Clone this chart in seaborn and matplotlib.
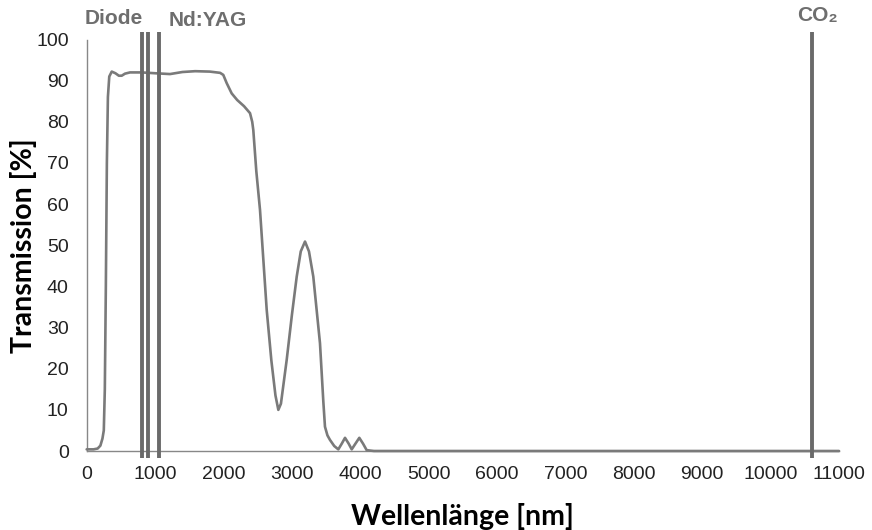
import matplotlib
matplotlib.use("Agg")
import matplotlib.pyplot as plt
import seaborn as sns
import pandas as pd

# Transmission spectrum (wavelength in nm, transmission in %)
wavelength_nm = [0, 100, 160, 200, 230, 250, 265, 280, 295, 310, 330, 366, 420, 470,
                 512, 560, 633, 800, 1000, 1218, 1400, 1586, 1800, 1950, 1997, 2047,
                 2120, 2200, 2300, 2388, 2420, 2436, 2480, 2534, 2632, 2700, 2760,
                 2802, 2840, 2924, 3000, 3071, 3130, 3192, 3250, 3313, 3411, 3460,
                 3484, 3520, 3557, 3620, 3679, 3730, 3777, 3830, 3875, 3930, 3986,
                 4040, 4094, 4200, 11000]
transmission_pct = [0.4, 0.4, 0.6, 1.3, 3.0, 5.0, 15, 40, 70, 86, 91, 92.2, 91.8, 91.2,
                    91.2, 91.7, 92.0, 92.0, 91.8, 91.6, 92.1, 92.3, 92.2, 91.9, 91.4, 89.4,
                    86.9, 85.3, 83.8, 82.1, 80, 78, 68, 58.6, 34.3, 22, 13.5,
                    10.0, 11.5, 22.1, 33, 42.4, 48.5, 50.9, 48.5, 42.4, 26.2, 12,
                    5.9, 3.8, 2.7, 1.2, 0.4, 1.8, 3.2, 1.8, 0.4, 1.8, 3.2,
                    1.8, 0.2, 0.0, 0.0]

# Laser wavelengths marked by vertical lines
laser_lines_nm = [808, 890, 1064, 10600]
laser_names = ["Diode", "Nd:YAG", "CO\u2082"]
laser_label_x = [390, 1775, 10690]
laser_label_y = [105.2, 104.7, 105.8]

x_ticks = list(range(0, 11001, 1000))
y_ticks = list(range(0, 101, 10))

sns.set_theme(style="white")
plt.rcParams["font.family"] = ["Liberation Sans", "DejaVu Sans"]

fig = plt.figure(figsize=(8.72, 5.30), dpi=100)
ax = fig.add_axes([86.7 / 872, 1 - 451 / 530, (839 - 86.7) / 872, (451 - 39.5) / 530])

df = pd.DataFrame({"Wellenlänge": wavelength_nm, "Transmission": transmission_pct})
sns.lineplot(data=df, x="Wellenlänge", y="Transmission", ax=ax,
             color="#7a7a7a", linewidth=1.9, zorder=3, clip_on=False)

ax.vlines(laser_lines_nm, -1.6, 101.8, colors="#6a6a6a", linewidth=2.8,
          clip_on=False, zorder=4)

for name, lx, ly in zip(laser_names, laser_label_x, laser_label_y):
    ax.text(lx, ly, name, ha="center", va="center", fontsize=15,
            fontweight="bold", color="#6e6e6e", clip_on=False,
            family=["Liberation Sans", "DejaVu Sans"])

ax.set_xlim(0, 11000)
ax.set_ylim(0, 100)
ax.set_xticks(x_ticks)
ax.set_yticks(y_ticks)
ax.tick_params(axis="both", labelsize=14, colors="#888888", labelcolor="#222222",
               length=6, width=1, direction="out", pad=5)
ax.tick_params(axis="y", length=8)
for lab in ax.get_xticklabels() + ax.get_yticklabels():
    lab.set_family(["Liberation Sans", "DejaVu Sans"])

for side in ["top", "right"]:
    ax.spines[side].set_visible(False)
for side in ["left", "bottom"]:
    ax.spines[side].set_color("#888888")
    ax.spines[side].set_linewidth(1)

ax.set_xlabel("Wellenlänge [nm]", fontsize=20.5, fontweight="bold", family="Lato",
              color="black", labelpad=14)
ax.set_ylabel("Transmission [%]", fontsize=20.5, fontweight="bold", family="Lato",
              color="black", labelpad=-1)

fig.savefig("out.png", dpi=100, facecolor="white")
